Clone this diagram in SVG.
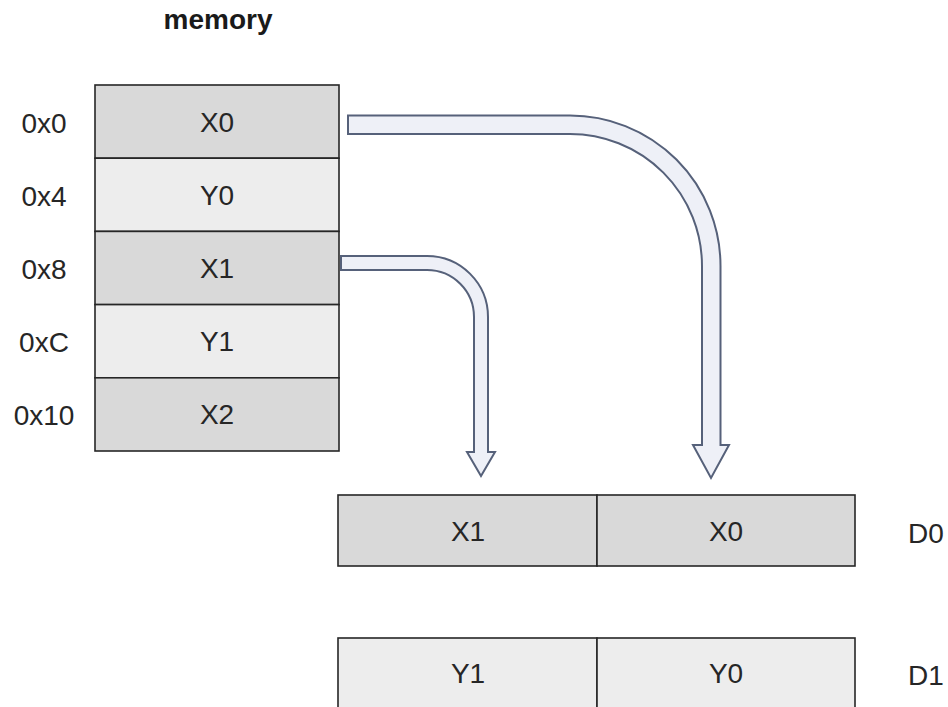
<svg xmlns="http://www.w3.org/2000/svg" width="948" height="707" viewBox="0 0 948 707">
<style>
.dark{fill:#d9d9d9;stroke:#262626;stroke-width:1.6}
.light{fill:#ededed;stroke:#262626;stroke-width:1.6}
.t{font-family:"Liberation Sans",Arial,sans-serif;font-size:28px;fill:#262626;text-anchor:middle}
.title{font-family:"Liberation Sans",Arial,sans-serif;font-size:28px;font-weight:bold;fill:#1a1a1a;text-anchor:middle}
.arrow{fill:#eef0f7;stroke:#56617a;stroke-width:2;stroke-linejoin:miter}
</style>
<rect width="948" height="707" fill="#ffffff"/>
<text class="title" x="218" y="29">memory</text>
<g id="mem0"><rect class="dark" x="95" y="85" width="244" height="73.2"/><text class="t" x="217" y="132">X0</text><text class="t" x="44" y="132.5">0x0</text></g>
<g id="mem4"><rect class="light" x="95" y="158.2" width="244" height="73.2"/><text class="t" x="217" y="205">Y0</text><text class="t" x="44" y="205.5">0x4</text></g>
<g id="mem8"><rect class="dark" x="95" y="231.4" width="244" height="73.2"/><text class="t" x="217" y="278">X1</text><text class="t" x="44" y="278.5">0x8</text></g>
<g id="memC"><rect class="light" x="95" y="304.6" width="244" height="73.2"/><text class="t" x="217" y="351">Y1</text><text class="t" x="44" y="351.5">0xC</text></g>
<g id="mem10"><rect class="dark" x="95" y="377.8" width="244" height="73.2"/><text class="t" x="217" y="424">X2</text><text class="t" x="44" y="424.5">0x10</text></g>
<g id="D0">
<rect class="dark" x="338" y="495" width="259" height="71"/>
<rect class="dark" x="597" y="495" width="258" height="71"/>
<text class="t" x="468" y="541">X1</text>
<text class="t" x="726" y="541">X0</text>
<text class="t" x="926" y="543">D0</text>
</g>
<g id="D1">
<rect class="light" x="338" y="638" width="259" height="80"/>
<rect class="light" x="597" y="638" width="258" height="80"/>
<text class="t" x="468" y="683">Y1</text>
<text class="t" x="726" y="683">Y0</text>
<text class="t" x="926" y="685">D1</text>
</g>
<g id="connectors">
<path class="arrow" d="M348,115.5 H570 A150.5,150.5 0 0 1 720.5,266 V445 H729 L711,478 L693,445 H702 V266 A132,132 0 0 0 570,134 H348 Z"/>
<path class="arrow" d="M341,256 H427 A61,61 0 0 1 488,317 V452 H495 L481,476 L467,452 H474 V317 A47,47 0 0 0 427,270 H341 Z"/>
</g>
</svg>
